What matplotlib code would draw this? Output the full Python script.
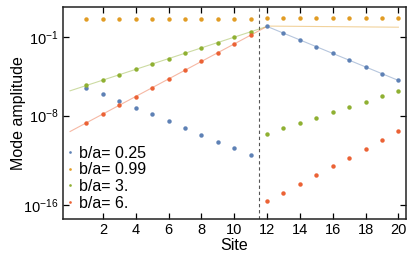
import numpy as np
import matplotlib
matplotlib.use("Agg")
import matplotlib.pyplot as plt
from matplotlib.ticker import FixedLocator, NullLocator

plt.rcParams["font.family"] = ["Liberation Sans", "DejaVu Sans"]
plt.rcParams["mathtext.fontset"] = "custom"
plt.rcParams["mathtext.rm"] = "Liberation Sans"
plt.rcParams["mathtext.it"] = "Liberation Sans"

# sites
left_sites = np.arange(1, 12)
right_sites = np.arange(12, 21)

# log10 of mode amplitude
blue_left = [-5.51, -6.10, -6.67, -7.30, -7.89, -8.51, -9.11, -9.71, -10.34, -10.93, -11.53]
blue_right = [-0.02, -0.64, -1.24, -1.84, -2.43, -3.06, -3.66, -4.26, -4.85]
orange_left = [0.66] * 11
orange_right = [0.70] * 9
green_left = [-5.29, -4.82, -4.35, -3.86, -3.39, -2.91, -2.43, -1.93, -1.48, -1.00, -0.53]
green_right = [-9.62, -9.14, -8.67, -8.19, -7.71, -7.23, -6.76, -6.28, -5.78]
red_left = [-8.64, -7.86, -7.08, -6.31, -5.51, -4.73, -3.92, -3.15, -2.38, -1.60, -0.82]
red_right = [-15.67, -14.90, -14.12, -13.32, -12.54, -11.77, -10.99, -10.19, -9.41]

# thin guide curves (log10 values at their end sites)
blue_fit_x, blue_fit = [12, 20], [-0.02, -4.85]
orange_fit_x, orange_fit = [12, 20], [0.01, -0.09]
green_fit_x, green_fit = [0, 12], [-5.78, -0.02]
red_fit_x, red_fit = [0, 12], [-9.42, -0.02]

labels = ["b/a= 0.25", "b/a= 0.99", "b/a= 3.", "b/a= 6."]
colors = ["#5E81B5", "#E19C24", "#8FB032", "#EB6235"]

series = [
    (blue_left, blue_right, blue_fit_x, blue_fit),
    (orange_left, orange_right, orange_fit_x, orange_fit),
    (green_left, green_right, green_fit_x, green_fit),
    (red_left, red_right, red_fit_x, red_fit),
]

fig = plt.figure(figsize=(4.07, 2.62), dpi=100)
ax = fig.add_axes([0.154, 0.166, 0.843, 0.807])

for (lv, rv, fx, fv), col, lab in zip(series, colors, labels):
    ax.plot(fx, 10 ** np.array(fv), color=col, lw=0.8, alpha=0.45, zorder=2)
    ax.plot(left_sites, 10 ** np.array(lv), "o", ms=3.2, color=col, mec="none",
            label=lab, zorder=3)
    ax.plot(right_sites, 10 ** np.array(rv), "o", ms=3.2, color=col, mec="none", zorder=3)

ax.axvline(11.5, color="#555555", lw=0.8, ls=(0, (3, 2.5)), zorder=1)

ax.set_yscale("log")
ax.set_xlim(-0.45, 20.45)
ax.set_ylim(10 ** -17.2, 10 ** 1.71)

ax.xaxis.set_major_locator(FixedLocator(np.arange(2, 21, 2)))
ax.yaxis.set_major_locator(FixedLocator([1e-1, 1e-8, 1e-16]))
ax.yaxis.set_minor_locator(NullLocator())
ax.set_yticklabels([r"$10^{-1}$", r"$10^{-8}$", r"$10^{-16}$"])

ax.tick_params(direction="in", length=4, width=0.9, labelsize=10.5,
               top=True, right=True, pad=3)
for sp in ax.spines.values():
    sp.set_linewidth(1.1)
    sp.set_color("#222222")

ax.set_xlabel("Site", fontsize=11.5, labelpad=1)
ax.set_ylabel("Mode amplitude", fontsize=11.5, labelpad=-2)

leg = ax.legend(loc="lower left", bbox_to_anchor=(-0.01, 0.0), frameon=False,
                fontsize=11.5, numpoints=1, handlelength=0.4, handletextpad=0.35,
                labelspacing=0.1, markerscale=0.6, borderaxespad=0.1)

fig.savefig("out.png", dpi=100)
